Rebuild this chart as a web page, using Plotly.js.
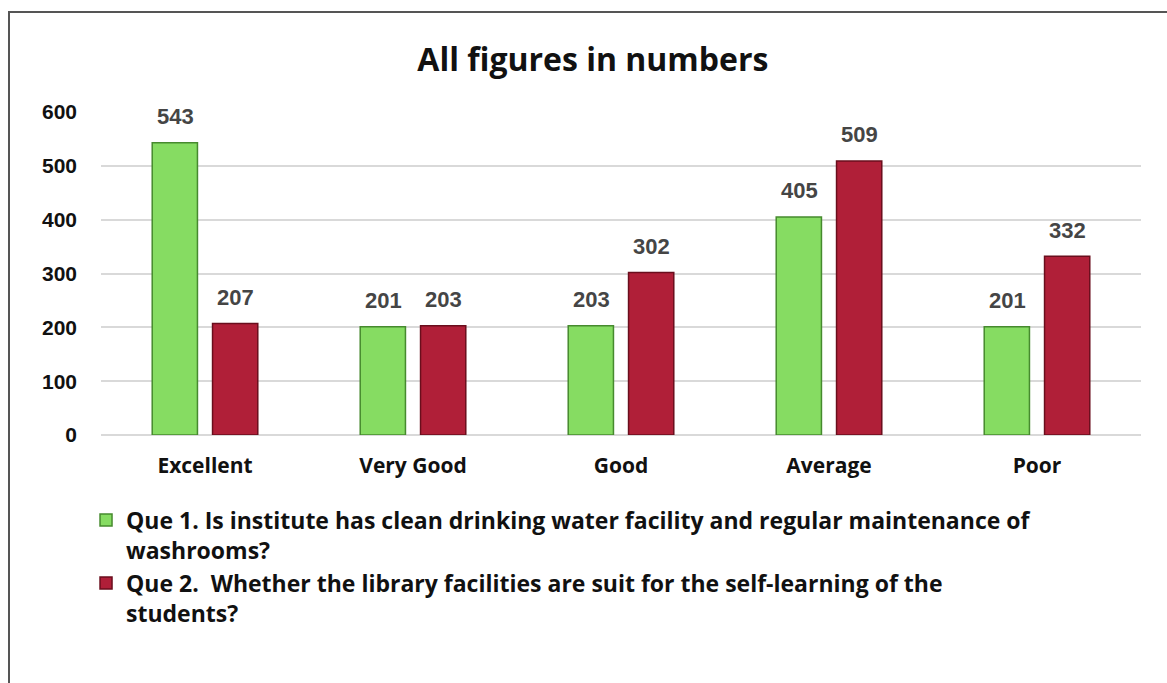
<!DOCTYPE html>
<html>
<head>
<meta charset="utf-8">
<script src="https://cdn.plot.ly/plotly-3.0.1.min.js"></script>
<style>
  html, body { margin: 0; padding: 0; background: #fff; }
  #chart { width: 1167px; height: 683px; }
  #frame { position: absolute; left: 8px; top: 11px; width: 1200px; height: 700px;
           border-top: 2px solid #555; border-left: 2px solid #555; pointer-events: none; }
</style>
</head>
<body>
<div id="chart"></div>
<div id="frame"></div>
<script>
const categories = ["Excellent", "Very Good", "Good", "Average", "Poor"];
const que1Values = [543, 201, 203, 405, 201];
const que2Values = [207, 203, 302, 509, 332];
const que1Name = "Que 1. Is institute has clean drinking water facility and regular maintenance of<br>washrooms?";
const que2Name = "Que 2.  Whether the library facilities are suit for the self-learning of the<br>students?";
const yTicks = [0, 100, 200, 300, 400, 500, 600];

const labelFont = { family: "Liberation Sans, Arial, sans-serif", size: 22, color: "#454545", weight: "bold" };

function boldLines(s) { return s.split("<br>").map(p => "<b>" + p + "</b>").join("<br>"); }

const traces = [
  {
    type: "bar", name: boldLines(que1Name), x: categories, y: que1Values,
    marker: { color: "#86dc62", line: { color: "#468a2e", width: 1.5 } }
  },
  {
    type: "bar", name: boldLines(que2Name), x: categories, y: que2Values,
    marker: { color: "#b01f38", line: { color: "#6a0e1d", width: 1.5 } }
  }
];

// value labels above each bar (group slot offset of +/-30px)
const annotations = [];
[[que1Values, -30], [que2Values, 30]].forEach(([vals, dx]) => {
  vals.forEach((v, i) => {
    annotations.push({
      x: categories[i], y: v, xref: "x", yref: "y",
      text: String(v), showarrow: false, xshift: dx, yshift: 26,
      xanchor: "center", yanchor: "middle", font: labelFont
    });
  });
});

const layout = {
  width: 1167, height: 683,
  paper_bgcolor: "#ffffff", plot_bgcolor: "#ffffff",
  margin: { l: 101, r: 26, t: 112, b: 248 },
  title: {
    text: "<b>All figures in numbers</b>",
    font: { family: "Open Sans, sans-serif", size: 32, color: "#111" },
    x: 0.508, xanchor: "center", y: 0.912, yanchor: "middle"
  },
  barmode: "group",
  bargap: 0.42,
  bargroupgap: 0.25,
  showlegend: true,
  legend: {
    orientation: "v",
    x: -0.0144, xanchor: "left", y: -0.197, yanchor: "top",
    valign: "top",
    font: { family: "Open Sans, sans-serif", size: 23, color: "#111" },
    itemwidth: 30, tracegroupgap: 0, bgcolor: "rgba(0,0,0,0)"
  },
  annotations: annotations,
  xaxis: {
    type: "category",
    tickfont: { family: "Open Sans, sans-serif", size: 21, color: "#111", weight: "bold" },
    showgrid: false, showline: false, ticks: "", ticklabelstandoff: 16
  },
  yaxis: {
    range: [0, 600], tickvals: yTicks, ticktext: yTicks.map(String),
    tickfont: { family: "Liberation Sans, Arial, sans-serif", size: 21, color: "#111", weight: "bold" },
    showgrid: true, gridcolor: "#d9d9d9", gridwidth: 2,
    zeroline: true, zerolinecolor: "#d9d9d9", zerolinewidth: 2,
    showline: false, ticks: "", ticklabelstandoff: 23
  },
  font: { family: "Liberation Sans, Arial, sans-serif" }
};

Plotly.newPlot("chart", traces, layout, { displayModeBar: false, staticPlot: true });
</script>
</body>
</html>
